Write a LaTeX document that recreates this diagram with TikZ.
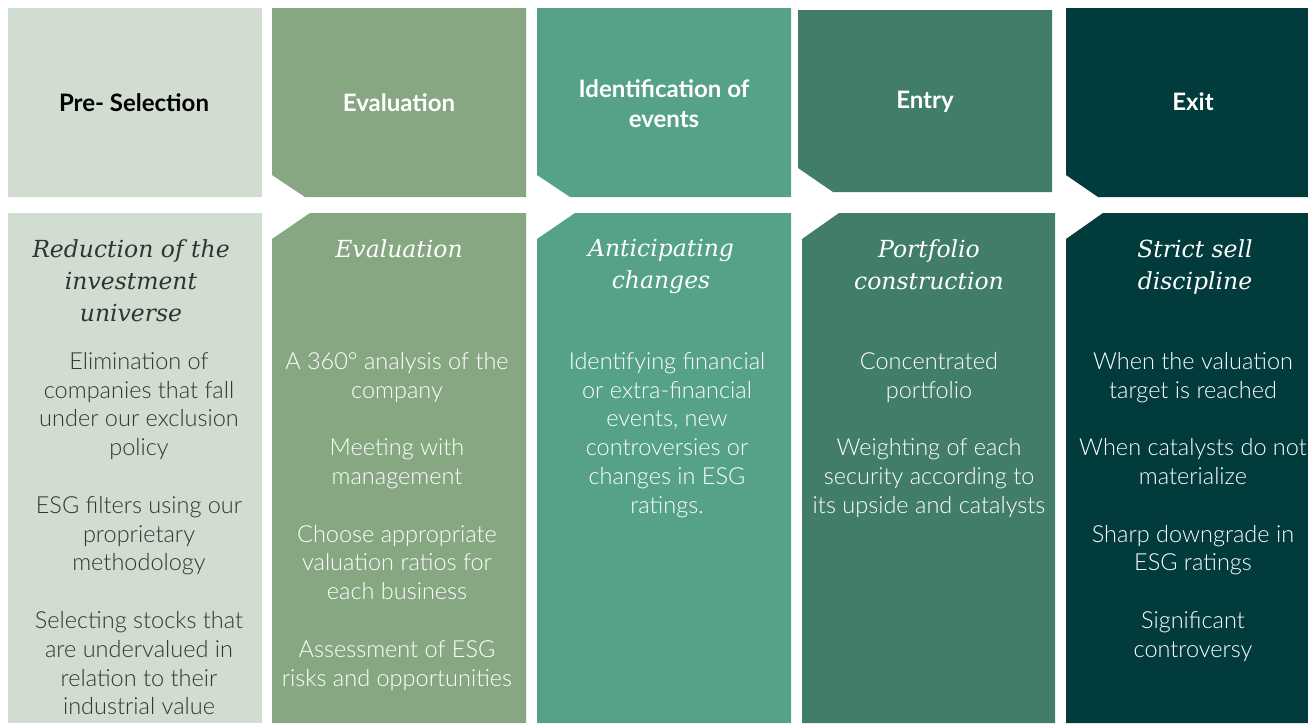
\documentclass[tikz,border=0pt]{standalone}
\usepackage{fontspec}
\setmainfont{Lato}
\newfontfamily\lightfont{Lato Light}
\newfontfamily\titlefont{DejaVu Serif}
\definecolor{PreGreen}{HTML}{D1DDD1}
\definecolor{EvalGreen}{HTML}{87A783}
\definecolor{EventGreen}{HTML}{55A287}
\definecolor{EntryGreen}{HTML}{427D67}
\definecolor{ExitGreen}{HTML}{023B3B}
\definecolor{DarkText}{HTML}{333333}

\begin{document}
\begin{tikzpicture}[x=1pt,y=-1pt,
    head/.style={font=\bfseries\fontsize{24}{30}\selectfont, align=center, inner sep=0pt, anchor=north},
    title/.style={font=\titlefont\itshape\fontsize{23.5}{32}\selectfont, align=center, inner sep=0pt, anchor=north},
    body/.style={font=\lightfont\fontsize{23.5}{28.8}\selectfont, align=center, inner sep=0pt, anchor=north}]

    \fill[white] (0,0) rectangle (1308,723);
    \useasboundingbox (0,0) rectangle (1308,723);

    % pre-selection
    \fill[PreGreen] (8,8) rectangle (262,197);
    \fill[PreGreen] (8,213) rectangle (262,723);

    % evaluation
    \fill[EvalGreen] (272,8) -- (526,8) -- (526,197) -- (305,197) -- (272,175) -- cycle;
    \fill[EvalGreen] (310,213) -- (526,213) -- (526,723) -- (272,723) -- (272,239) -- cycle;

    % events
    \fill[EventGreen] (537,8) -- (791,8) -- (791,197) -- (570,197) -- (537,175) -- cycle;
    \fill[EventGreen] (575,213) -- (791,213) -- (791,723) -- (537,723) -- (537,239) -- cycle;

    % entry
    \fill[EntryGreen] (798,10) -- (1052,10) -- (1052,192) -- (833,192) -- (798,168) -- cycle;
    \fill[EntryGreen] (839,213) -- (1055,213) -- (1055,723) -- (802,723) -- (802,239) -- cycle;

    % exit
    \fill[ExitGreen] (1066,8) -- (1308,8) -- (1308,197) -- (1098,197) -- (1066,175) -- cycle;
    \fill[ExitGreen] (1103,213) -- (1308,213) -- (1308,723) -- (1066,723) -- (1066,239) -- cycle;

    \node[head, black] (preHead) at (134,93) {Pre- Selection};
    \node[title, DarkText] (preTitle) at (131,239) {Reduction of the\\investment\\universe};
    \node[body, DarkText] (preBody) at (139,352) {Elimination of\\companies that fall\\under our exclusion\\policy\\[28.8pt]
        ESG filters using our\\proprietary\\methodology\\[28.8pt]
        Selecting stocks that\\are undervalued in\\relation to their\\industrial value};

    \node[head, white] (evalHead) at (399,93) {Evaluation};
    \node[title, white] (evalTitle) at (399,239) {Evaluation};
    \node[body, white] (evalBody) at (397,352) {A 360° analysis of the\\company\\[28.8pt]
        Meeting with\\management\\[28.8pt]
        Choose appropriate\\valuation ratios for\\each business\\[28.8pt]
        Assessment of ESG\\risks and opportunities};

    \node[head, white] (eventHead) at (664,79) {Identification of\\events};
    \node[title, white] (eventTitle) at (661,239) {Anticipating\\changes};
    \node[body, white] (eventBody) at (667,352) {Identifying financial\\or extra-financial\\events, new\\controversies or\\changes in ESG\\ratings.};

    \node[head, white] (entryHead) at (925,91) {Entry};
    \node[title, white] (entryTitle) at (929,239) {Portfolio\\construction};
    \node[body, white] (entryBody) at (929,352) {Concentrated\\portfolio\\[28.8pt]
        Weighting of each\\security according to\\its upside and catalysts};

    \node[head, white] (exitHead) at (1193,93) {Exit};
    \node[title, white] (exitTitle) at (1195,239) {Strict sell\\discipline};
    \node[body, white] (exitBody) at (1193,352) {When the valuation\\target is reached\\[28.8pt]
        When catalysts do not\\materialize\\[28.8pt]
        Sharp downgrade in\\ESG ratings\\[28.8pt]
        Significant\\controversy};

\end{tikzpicture}
\end{document}
